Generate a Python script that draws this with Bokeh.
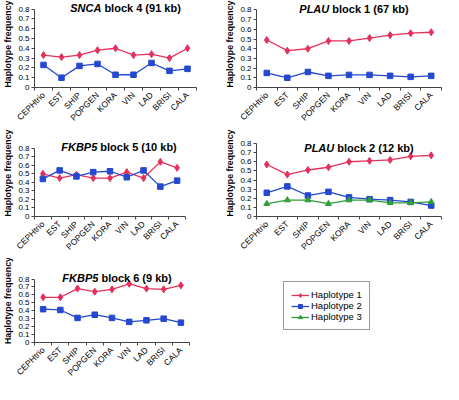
import math
import numpy as np
from bokeh.plotting import figure
from bokeh.models import Range1d, FixedTicker, Label, Legend, LegendItem, ColumnDataSource
from bokeh.layouts import column, row
from bokeh.embed import file_html
from bokeh.resources import INLINE

# ---------------- data ----------------
populations = ["CEPHtrio", "EST", "SHIP", "POPGEN", "KORA", "VIN", "LAD", "BRISI", "CALA"]
y_ticks = [0, 0.1, 0.2, 0.3, 0.4, 0.5, 0.6, 0.7, 0.8]
series_names = ["Haplotype 1", "Haplotype 2", "Haplotype 3"]

snca4_h1 = [0.33, 0.31, 0.33, 0.38, 0.40, 0.33, 0.34, 0.30, 0.40]
snca4_h2 = [0.23, 0.10, 0.22, 0.24, 0.13, 0.13, 0.25, 0.17, 0.19]

plau1_h1 = [0.49, 0.38, 0.40, 0.48, 0.48, 0.51, 0.54, 0.56, 0.57]
plau1_h2 = [0.15, 0.10, 0.16, 0.12, 0.13, 0.13, 0.12, 0.11, 0.12]

fkbp5_5_h1 = [0.50, 0.45, 0.49, 0.45, 0.45, 0.52, 0.45, 0.64, 0.57]
fkbp5_5_h2 = [0.44, 0.54, 0.47, 0.52, 0.53, 0.46, 0.54, 0.35, 0.42]

plau2_h1 = [0.57, 0.46, 0.51, 0.54, 0.60, 0.61, 0.62, 0.66, 0.67]
plau2_h2 = [0.26, 0.33, 0.23, 0.27, 0.21, 0.19, 0.18, 0.16, 0.12]
plau2_h3 = [0.14, 0.18, 0.18, 0.14, 0.18, 0.18, 0.15, 0.15, 0.16]

fkbp5_6_h1 = [0.57, 0.57, 0.68, 0.64, 0.67, 0.74, 0.68, 0.67, 0.72]
fkbp5_6_h2 = [0.42, 0.41, 0.31, 0.35, 0.31, 0.26, 0.28, 0.30, 0.25]

# ---------------- style ----------------
FONT = "Liberation Sans"
COLORS = ["#e5305c", "#2448d0", "#2f9e3a"]
MARKERS = ["diamond", "square", "triangle"]
SIZES = [7, 5.5, 6]
AXIS_COLOR = "#444444"
Y_MAX = 0.8

# Arial Bold advance widths (per 1000 em) for title layout
BOLD_W = {" ": 278, "(": 333, ")": 333, "A": 722, "B": 722, "C": 722, "F": 611,
          "K": 722, "L": 611, "N": 722, "P": 667, "S": 667, "U": 722,
          "b": 611, "c": 556, "k": 556, "l": 278, "o": 611}


def text_w(s, size):
    return sum(BOLD_W.get(ch, 556) for ch in s) * size / 1000.0


def make_panel(gene, rest, series, width, height, borders, title_dx, title_dy):
    # borders: left, right, top (pixel row of the 0.8 tick), bottom
    left, right, top, bottom = borders
    n = len(populations)
    frame_h = height - bottom
    extra = Y_MAX * top / (frame_h - top)   # headroom above 0.8 for the title
    p = figure(width=width, height=height, output_backend="svg", toolbar_location=None,
               tools="", x_range=Range1d(0, n), y_range=Range1d(0, Y_MAX + extra),
               min_border_left=left, min_border_right=right,
               min_border_top=0, min_border_bottom=bottom)
    p.grid.visible = False
    p.outline_line_color = None
    p.background_fill_color = "white"
    p.border_fill_color = "white"

    xs = [i + 0.5 for i in range(n)]
    for k, vals in enumerate(series):
        src = ColumnDataSource(dict(x=xs, y=vals))
        p.line("x", "y", source=src, line_color=COLORS[k], line_width=1.3)
        p.scatter("x", "y", source=src, marker=MARKERS[k], size=SIZES[k],
                  fill_color=COLORS[k], line_color=COLORS[k])

    xa = p.xaxis[0]
    xa.ticker = FixedTicker(ticks=xs, minor_ticks=list(range(n + 1)))
    xa.major_label_overrides = {x: name for x, name in zip(xs, populations)}
    xa.major_label_orientation = math.pi / 4
    xa.major_tick_out = 0
    xa.major_tick_in = 0
    xa.minor_tick_out = 3
    xa.minor_tick_in = 0
    xa.minor_tick_line_color = AXIS_COLOR
    xa.axis_line_color = AXIS_COLOR
    xa.major_label_standoff = 3
    xa.major_label_text_font = FONT
    xa.major_label_text_font_size = "8.5px"
    xa.major_label_text_color = "black"

    ya = p.yaxis[0]
    ya.ticker = FixedTicker(ticks=y_ticks, minor_ticks=[])
    ya.bounds = (0, Y_MAX)
    ya.major_label_overrides = {t: f"{t:g}" for t in y_ticks}
    ya.major_tick_out = 3
    ya.major_tick_in = 0
    ya.minor_tick_out = 0
    ya.minor_tick_in = 0
    ya.axis_line_color = AXIS_COLOR
    ya.major_tick_line_color = AXIS_COLOR
    ya.major_label_standoff = 2
    ya.major_label_text_font = FONT
    ya.major_label_text_font_size = "8px"
    ya.major_label_text_color = "black"
    ya.axis_label = "Haplotype frequency"
    ya.axis_label_text_font = FONT
    ya.axis_label_text_font_size = "8.8px"
    ya.axis_label_text_font_style = "bold"
    ya.axis_label_text_color = "black"
    ya.axis_label_standoff = 2

    # title: italic gene symbol + bold rest, centred together
    fs = 11
    w1 = text_w(gene, fs)
    wsp = text_w(" ", fs)
    w2 = text_w(rest, fs)
    total = w1 + wsp + w2
    split = title_dx - total / 2 + w1
    common = dict(x=n / 2, y=Y_MAX, y_offset=title_dy, text_font=FONT,
                  text_font_size=f"{fs}px", text_color="black",
                  text_baseline="alphabetic")
    p.add_layout(Label(text=gene, x_offset=split, text_align="right",
                       text_font_style="bold italic", **common))
    p.add_layout(Label(text=rest, x_offset=split + wsp, text_align="left",
                       text_font_style="bold", **common))
    return p


p1 = make_panel("SNCA", "block 4 (91 kb)", [snca4_h1, snca4_h2],
                222, 129, (30, 26, 9, 37), 10, 1)
p2 = make_panel("PLAU", "block 1 (67 kb)", [plau1_h1, plau1_h2],
                221, 129, (32, 2, 10, 37), 5, 1)
p3 = make_panel("FKBP5", "block 5 (10 kb)", [fkbp5_5_h1, fkbp5_5_h2],
                222, 129, (30, 37, 20, 36), 9, 1)
p4 = make_panel("PLAU", "block 2 (12 kb)", [plau2_h1, plau2_h2, plau2_h3],
                221, 129, (32, 2, 15, 36), 10, -4)
p5 = make_panel("FKBP5", "block 6 (9 kb)", [fkbp5_6_h1, fkbp5_6_h2],
                222, 126, (30, 33, 22, 36), 5, 1)

# legend panel (same vertical borders as its row neighbour)
pl = figure(width=221, height=126, output_backend="svg", toolbar_location=None, tools="",
            x_range=Range1d(0, 1), y_range=Range1d(0, 1),
            x_axis_location=None, y_axis_location=None,
            min_border_left=0, min_border_right=0, min_border_top=0, min_border_bottom=36)
pl.grid.visible = False
pl.outline_line_color = None
pl.border_fill_color = "white"
pl.background_fill_color = "white"
items = []
for k, name in enumerate(series_names):
    src = ColumnDataSource(dict(x=np.array([np.nan]), y=np.array([np.nan])))
    rl = pl.line("x", "y", source=src, line_color=COLORS[k], line_width=1.3)
    rs = pl.scatter("x", "y", source=src, marker=MARKERS[k], size=SIZES[k],
                    fill_color=COLORS[k], line_color=COLORS[k])
    items.append(LegendItem(label=name, renderers=[rl, rs]))
legend = Legend(items=items, location=(61, 12))
legend.border_line_color = "#333333"
legend.border_line_width = 1
legend.background_fill_color = "white"
legend.background_fill_alpha = 1
legend.padding = 7
legend.spacing = 0
legend.margin = 0
legend.glyph_width = 18
legend.glyph_height = 10
legend.label_height = 10
legend.label_standoff = 2
legend.label_text_font = FONT
legend.label_text_font_size = "9.5px"
legend.label_text_color = "black"
pl.add_layout(legend)

layout = column(row(p1, p2), row(p3, p4), row(p5, pl))

open("out.html", "w").write(file_html(layout, INLINE))
